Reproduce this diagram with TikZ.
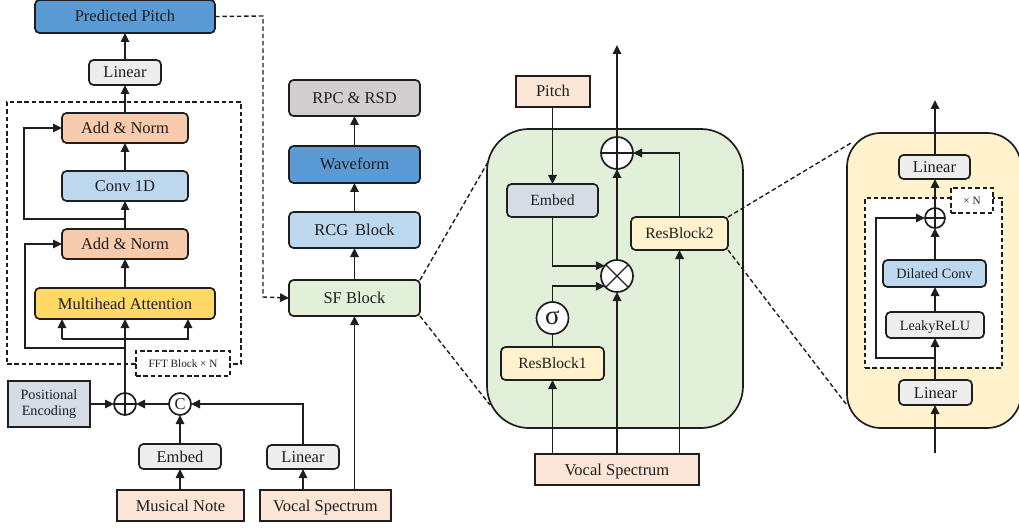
\documentclass[tikz,border=0pt]{standalone}
\usepackage{fontspec}
\setmainfont{Liberation Serif}
\usetikzlibrary{arrows.meta,calc}
\definecolor{ink}{HTML}{1E1E1E}
\definecolor{cblue}{HTML}{5B9BD5}
\definecolor{clblue}{HTML}{BDD7EE}
\definecolor{corange}{HTML}{F8CBAD}
\definecolor{cgold}{HTML}{FFD966}
\definecolor{cgrey}{HTML}{EDEDED}
\definecolor{cdgrey}{HTML}{D0CECE}
\definecolor{cpeach}{HTML}{FBE5D6}
\definecolor{ccream}{HTML}{FFF2CC}
\definecolor{cgreen}{HTML}{E2F0D9}
\definecolor{cslate}{HTML}{D6DCE5}
\tikzset{
  x=1pt,y=-1pt,
  every node/.style={text=ink,inner sep=0pt,outer sep=0pt},
  ln/.style={draw=ink,line width=1.7pt},
  arr/.style={draw=ink,line width=1.7pt,-{Triangle[width=8.5pt,length=9pt]}},
  dsh/.style={draw=ink,line width=1.4pt,dash pattern=on 4.5pt off 2.8pt},
  rbox/.style={draw=ink,line width=1.7pt,rounded corners=4.5pt},
  sbox/.style={draw=ink,line width=1.7pt},
  fa/.style={font=\fontsize{16.5}{19}\selectfont,text height=12.5pt,text depth=1.5pt},
  fb/.style={font=\fontsize{15.6}{18}\selectfont,text height=12pt,text depth=1.5pt},
  fc/.style={font=\fontsize{14.2}{19}\selectfont,text height=11pt,text depth=1pt},
  fd/.style={font=\fontsize{11.2}{13}\selectfont,text height=8pt,text depth=0.5pt},
  fp/.style={font=\fontsize{14.2}{16.5}\selectfont},
  sumc/.style={circle,draw=ink,fill=white,line width=1.7pt,minimum size=#1},
  plusc/.style={sumc=#1,path picture={
     \draw[ink,line width=1.3pt] (path picture bounding box.north) -- (path picture bounding box.south)
       (path picture bounding box.west) -- (path picture bounding box.east);}},
  timesc/.style={sumc=#1,path picture={
     \draw[ink,line width=1.3pt] (path picture bounding box.north west) -- (path picture bounding box.south east)
       (path picture bounding box.south west) -- (path picture bounding box.north east);}},
}
\newcommand{\bx}[7]{%
  \pgfmathsetmacro{\bw}{#4-#2}\pgfmathsetmacro{\bh}{#5-#3}%
  \pgfmathsetmacro{\bcx}{(#4+#2)/2}\pgfmathsetmacro{\bcy}{(#5+#3)/2}%
  \node[minimum width=\bw pt,minimum height=\bh pt,#6] (#1) at (\bcx,\bcy) {#7};}
\begin{document}
\begin{tikzpicture}
\useasboundingbox (0,0) rectangle (1019,529);
% left stack
\bx{fft}{7}{102}{241}{364}{dsh}{}
\bx{pred}{35}{0}{215}{33}{rbox,fill=cblue,fa}{Predicted Pitch}
\bx{lin1}{89}{60}{161}{85}{rbox,fill=cgrey,fa}{Linear}
\bx{an2}{62}{113}{188}{143}{rbox,fill=corange,fa}{Add \& Norm}
\bx{conv}{62}{171}{188}{201}{rbox,fill=clblue,fa}{Conv 1D}
\bx{an1}{62}{229}{188}{259}{rbox,fill=corange,fa}{Add \& Norm}
\bx{mha}{35}{288}{215}{319}{rbox,fill=cgold,fa}{Multihead Attention}
\bx{fftl}{136}{351}{230}{376}{dsh,fill=white,fd}{FFT Block × N}
\bx{pos}{8}{381}{90}{427}{sbox,fill=cslate,fp,align=center}{Positional\\Encoding}
\node[plusc=22pt] (sum) at (125,404) {};
\node[sumc=22pt,font=\fontsize{16.5}{19}\selectfont] (cat) at (180,404) {C};
\bx{emb1}{139}{444}{221}{469}{rbox,fill=cgrey,fa}{Embed}
\bx{lin2}{267}{445}{339}{469}{rbox,fill=cgrey,fa}{Linear}
\bx{note}{117}{490}{244}{521}{sbox,fill=cpeach,fa}{Musical Note}
\bx{voc1}{260}{490}{391}{521}{sbox,fill=cpeach,fa}{Vocal Spectrum}
% middle stack
\bx{rpc}{289}{80}{420}{116}{rbox,fill=cdgrey,fa}{RPC \& RSD}
\bx{wave}{289}{146}{420}{183}{rbox,fill=cblue,fa}{Waveform}
\bx{rcg}{289}{212}{420}{248}{rbox,fill=clblue,fa}{RCG\, Block}
\bx{sf}{289}{280}{420}{316}{rbox,fill=cgreen,fa}{SF Block}
% green panel
\coordinate (g1) at (488,162);
\coordinate (g2) at (490,405);
\draw[dsh] (sf.north east) -- (g1);
\draw[dsh] (sf.south east) -- (g2);
\bx{panelg}{487}{129}{743}{428}{draw=ink,line width=1.7pt,rounded corners=42pt,fill=cgreen}{}
\bx{pitch}{516}{76}{590}{107}{sbox,fill=cpeach,fa}{Pitch}
\bx{emb2}{507}{184}{598}{217}{rbox,fill=cslate,fb}{Embed}
\bx{res2}{631}{217}{728}{250}{rbox,fill=ccream,fb}{ResBlock2}
\bx{res1}{501}{347}{604}{380}{rbox,fill=ccream,fb}{ResBlock1}
\node[plusc=32pt] (gplus) at (617,153) {};
\node[timesc=32pt] (gtimes) at (617,276) {};
\node[sumc=32pt,font=\fontsize{27}{29}\selectfont] (sig) at (552.5,318) {σ};
\bx{voc2}{535}{454}{699}{485}{sbox,fill=cpeach,fa}{Vocal Spectrum}
\coordinate (gout) at (617,45);
% yellow panel
\coordinate (y1) at (851,143);
\coordinate (y2) at (846,404);
\draw[dsh] (res2.north east) -- (y1);
\draw[dsh] (res2.south east) -- (y2);
\bx{panely}{847}{133}{1021}{428}{draw=ink,line width=1.7pt,rounded corners=34pt,fill=ccream}{}
\bx{frame}{865}{198}{1002}{368}{dsh,fill=white}{}
\bx{ylinb}{899}{380}{972}{405}{rbox,fill=cgrey,fa}{Linear}
\bx{leaky}{886}{312}{984}{338}{rbox,fill=cgrey,fc}{LeakyReLU}
\bx{dil}{883}{260}{986}{287}{rbox,fill=clblue,fc}{Dilated Conv}
\bx{ylint}{899}{155}{970}{179}{rbox,fill=cgrey,fa}{Linear}
\node[plusc=20pt] (yplus) at (935,218) {};
\bx{times}{951}{188}{993}{213}{dsh,fill=white,fd}{× N}
\coordinate (yout) at (935,100);
\coordinate (yin) at (935,453);
% connectors left
\draw[arr] (lin1.north) -- (pred.south);
\draw[arr] (an2.north) -- (lin1.south);
\draw[arr] (conv.north) -- (an2.south);
\draw[arr] (an1.north) -- (conv.south);
\draw[arr] (mha.north) -- (an1.south);
\draw[arr] (sum.north) -- (mha.south);
\coordinate (j1) at (125,219);
\coordinate (k1) at (24,219);
\draw[arr] (j1) -- (k1) |- (an2.west);
\coordinate (j2) at (125,348);
\coordinate (k2) at (25,348);
\draw[arr] (j2) -- (k2) |- (an1.west);
\coordinate (bl) at (62,339);
\coordinate (br) at (188,339);
\coordinate (tl) at (62,319);
\coordinate (tr) at (188,319);
\draw[arr] (bl) -- (br) -- (tr);
\draw[arr] (bl) -- (tl);
\draw[arr] (pos.east) -- (sum.west);
\draw[arr] (cat.west) -- (sum.east);
\draw[arr] (emb1.north) -- (cat.south);
\draw[arr] (note.north -| emb1.south) -- (emb1.south);
\draw[arr] (lin2.north) |- (cat.east);
\draw[arr] (lin2.south |- voc1.north) -- (lin2.south);
\draw[arr] (sf.south |- voc1.north) -- (sf.south);
% connectors middle
\draw[arr] (sf.north) -- (rcg.south);
\draw[arr] (rcg.north) -- (wave.south);
\draw[arr] (wave.north) -- (rpc.south);
\coordinate (d1) at (263,16);
\coordinate (d2) at (263,297);
\draw[dsh,-{Triangle[width=8.5pt,length=9pt]}] (pred.east) -- (d1) -- (d2) -- (sf.west);
% connectors green panel
\draw[arr] (pitch.south -| emb2.north) -- (emb2.north);
\draw[arr] (emb2.south) |- (gtimes.140);
\draw[arr] (sig.north) |- (gtimes.220);
\draw[ln] (res1.north) -- (sig.south);
\draw[arr] (res1.south |- voc2.north) -- (res1.south);
\draw[arr] (voc2.north) -- (gtimes.south);
\draw[arr] (gtimes.north) -- (gplus.south);
\draw[arr] (gplus.north) -- (gout);
\draw[arr] (res2.south |- voc2.north) -- (res2.south);
\draw[arr] (res2.north) |- (gplus.east);
% connectors yellow panel
\draw[arr] (yin) -- (ylinb.south -| yin);
\draw[arr] (ylinb.north -| yin) -- (leaky.south -| yin);
\draw[arr] (leaky.north -| yin) -- (dil.south -| yin);
\draw[arr] (dil.north -| yin) -- (yplus.south);
\draw[arr] (yplus.north) -- (ylint.south -| yin);
\draw[arr] (ylint.north -| yin) -- (yout);
\coordinate (j3) at (935,358);
\coordinate (k3) at (876,358);
\draw[arr] (j3) -- (k3) |- (yplus.west);
\end{tikzpicture}
\end{document}
